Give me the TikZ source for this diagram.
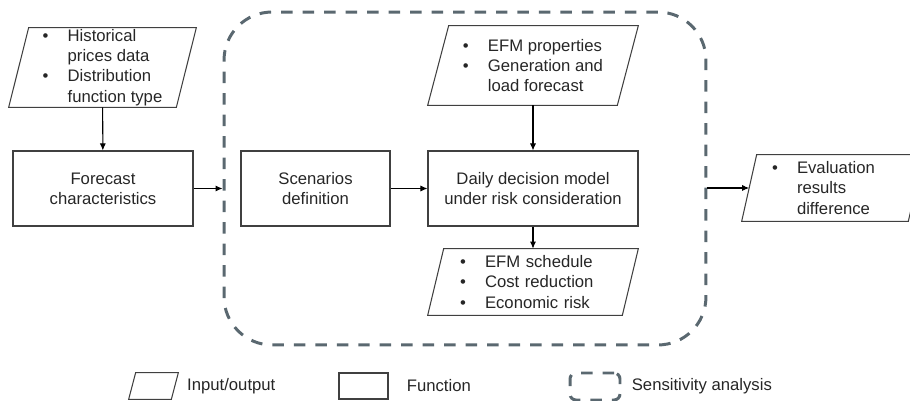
\documentclass[tikz,border=0pt]{standalone}
\usepackage{fontspec}
\setmainfont{Liberation Sans}
\usepackage{tikz}
\usetikzlibrary{arrows.meta, positioning, shapes.geometric, calc}
\usepackage{xcolor}
\definecolor{sensgray}{RGB}{90,104,112}
\definecolor{linegray}{RGB}{64,64,64}
\newcommand{\bul}{\makebox[0.5cm][l]{\textbullet}}
\newcommand{\ind}{\hspace*{0.5cm}}
\newcommand{\ioshape}[2]{\draw [draw=linegray, line width=0.6pt] ($(#1.south west)+(-#2/2,0)$) -- ($(#1.north west)+(#2/2,0)$) -- ($(#1.north east)+(#2/2,0)$) -- ($(#1.south east)+(-#2/2,0)$) -- cycle;}

\begin{document}
\begin{tikzpicture}[>={Latex[length=4pt,width=3.5pt]}, x=0.02cm, y=-0.02cm,
    every node/.style={font=\fontsize{9.5}{11.5}\selectfont, text=black!85},
    io/.style={rectangle, inner sep=0pt, align=left},
    fn/.style={rectangle, draw=linegray, line width=0.6pt, inner sep=0pt, align=center},
    sensbox/.style={draw=sensgray, line width=1.7pt, dash pattern=on 0.23cm off 0.2cm},
    link/.style={->, line width=0.6pt, black}]
        \useasboundingbox (0,0) rectangle (910,401);
        \node (sens) [sensbox, rounded corners=0.96cm, minimum width=9.64cm, minimum height=6.66cm] at (465,178.5) {};
        \node (hist) [io, minimum width=3.34cm, minimum height=1.58cm] at (102.5,67.5) {\bul Historical\\ \ind prices data\\ \bul Distribution\\ \ind function type};
        \ioshape{hist}{20}
        \node (fc) [fn, minimum width=3.6cm, minimum height=1.5cm] at (103,188.5) {Forecast\\characteristics};
        \node (sc) [fn, minimum width=2.98cm, minimum height=1.5cm] at (315.5,188.5) {Scenarios\\definition};
        \node (dm) [fn, minimum width=4.2cm, minimum height=1.5cm] at (533,188.5) {Daily decision model\\under risk consideration};
        \node (efm) [io, minimum width=3.78cm, minimum height=1.58cm] at (533,65.5) {\bul EFM properties\\ \bul Generation and\\ \ind load forecast};
        \ioshape{efm}{21}
        \node (res) [io, minimum width=3.88cm, minimum height=1.32cm, text width=2.92cm] at (533,282) {\bul EFM schedule\\ \bul Cost reduction\\ \bul Economic risk};
        \ioshape{res}{16}
        \node (ev) [io, minimum width=3.32cm, minimum height=1.32cm, text width=2.42cm] at (832.5,188) {\bul Evaluation\\ \ind results\\ \ind difference};
        \ioshape{ev}{15}
        \draw [link] (hist) -- (fc);
        \draw [link] (fc.east) -- (fc.east -| sens.west);
        \draw [link] (sc) -- (dm);
        \draw [link] (efm) -- (dm);
        \draw [link] (dm) -- (res);
        \draw [link] (sens.east |- ev.west) -- (ev.west);
        \node (lio) [io, minimum width=0.84cm, minimum height=0.52cm] at (153.5,386) {};
        \ioshape{lio}{7}
        \node (liotext) [right=0.24cm of lio, inner sep=0pt] {Input/output};
        \node (lfn) [fn, minimum width=0.98cm, minimum height=0.52cm] at (363.5,386) {};
        \node (lfntext) [right=0.36cm of lfn, inner sep=0pt] {Function};
        \node (lsa) [sensbox, rounded corners=0.12cm, minimum width=1cm, minimum height=0.54cm] at (595,386.5) {};
        \node (lsatext) [right=0.2cm of lsa, inner sep=0pt] {Sensitivity analysis};
    \end{tikzpicture}
\end{document}
